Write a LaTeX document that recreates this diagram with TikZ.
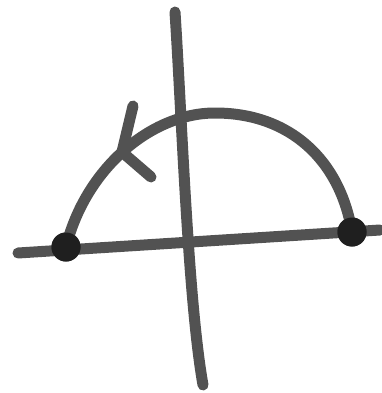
\documentclass[tikz,border=0pt]{standalone}
\begin{document}
\begin{tikzpicture}[x=1pt,y=-1pt,
  stroke/.style={draw=black!68,line width=11pt,line cap=round,line join=round},
  dot/.style={circle,fill=black!88,minimum size=29pt,inner sep=0pt}]
\useasboundingbox (0,0) rectangle (382,393);
\coordinate (vt) at (175,12);
\coordinate (vb) at (203,385);
\coordinate (hl) at (18,253);
\coordinate (hr) at (380,230);
\coordinate (peak) at (215,113);
\coordinate (tip) at (122,152);
\coordinate (a1) at (133,106);
\coordinate (a2) at (151,177);
\draw[stroke] (vt) .. controls (182,120) and (188,300) .. (vb);
\draw[stroke] (hl) -- (hr);
\node[dot] (L) at (66,247) {};
\node[dot] (R) at (352,232) {};
\draw[stroke] (R.center) .. controls (340,160) and (290,113) .. (peak)
  .. controls (150,113) and (85,170) .. (L.center);
\draw[stroke] (a1) -- (tip) -- (a2);
\node[dot] at (L) {};
\node[dot] at (R) {};
\end{tikzpicture}
\end{document}
